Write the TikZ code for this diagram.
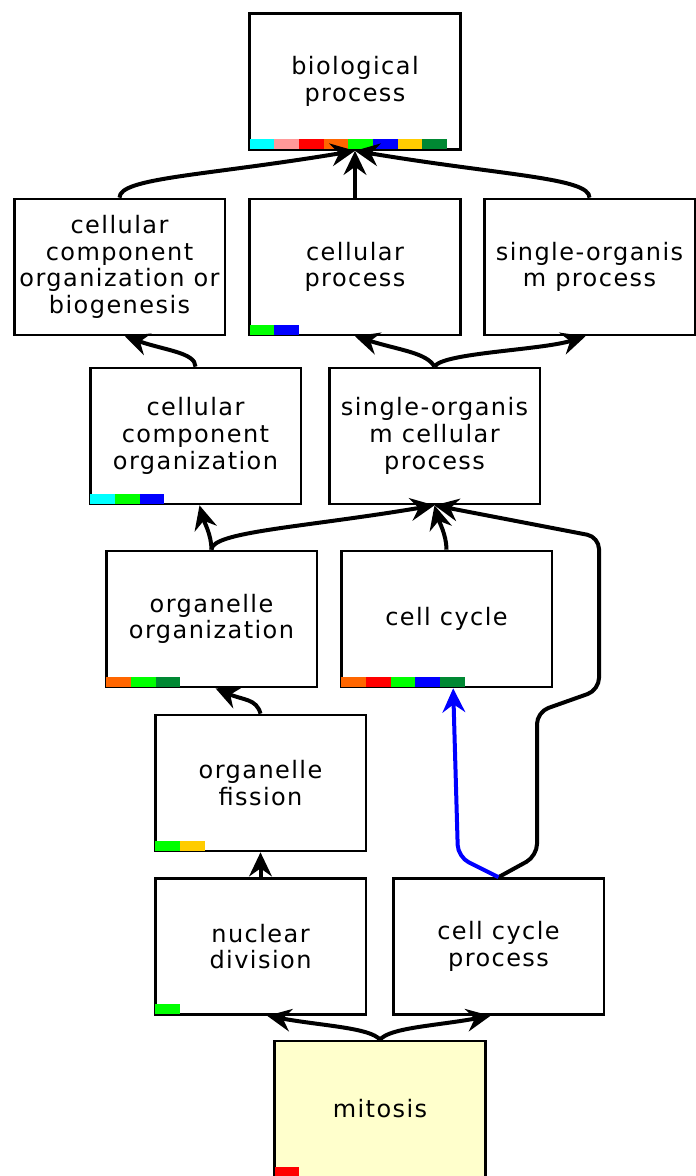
\documentclass[tikz,border=0pt]{standalone}
\usepackage{fontspec}
\usepackage{tikz}
\usetikzlibrary{positioning,%
  arrows.meta,%
  calc
}
\newfontfamily\gofont{DejaVu Sans}[LetterSpace=6]

\definecolor{gocyan}{RGB}{0,255,255}
\definecolor{gopink}{RGB}{255,153,153}
\definecolor{gored}{RGB}{255,0,0}
\definecolor{goorange}{RGB}{255,102,0}
\definecolor{gogreen}{RGB}{0,255,0}
\definecolor{goblue}{RGB}{0,0,255}
\definecolor{gogold}{RGB}{255,204,0}
\definecolor{godkgreen}{RGB}{0,136,51}
\definecolor{goquery}{RGB}{255,255,204}

% little colour strip in the lower left corner of a term box
\newcommand{\gobar}[2]{%
  \foreach \col [count=\i from 0] in {#2}
    \fill[\col] ([xshift={1pt+\i*18.5pt},yshift=1pt]#1.south west) rectangle ++(18.5pt,7.5pt);%
}

\tikzset{
  term/.style={draw, line width=2pt, fill=white, minimum width=158pt,
    minimum height=102pt, align=center, inner sep=2pt,
    font=\gofont\fontsize{18}{20}\selectfont},
  isa/.style={line width=3pt, -{Stealth[length=18pt,width=17pt,inset=6pt]}},
  partof/.style={isa, draw=goblue}
}

\begin{document}
\begin{tikzpicture}[x=0.75pt,y=0.75pt]
  \useasboundingbox (0,0) rectangle (695,1176);

  % terms
  \node[term] (bp)   at (355,1094.5) {biological\\process};
  \node[term] (ccob) at (119.5,909)  {cellular\\component\\organization or\\biogenesis};
  \node[term] (cp)   at (355,909)    {cellular\\process};
  \node[term] (sop)  at (589.5,909)  {single-organis\\m process};
  \node[term] (cco)  at (195.5,740)  {cellular\\component\\organization};
  \node[term] (socp) at (434.5,740)  {single-organis\\m cellular\\process};
  \node[term] (oo)   at (211.5,557)  {organelle\\organization};
  \node[term] (cc)   at (446.5,557)  {cell cycle};
  \node[term] (of)   at (260.5,393)  {organelle\\fission};
  \node[term] (nd)   at (260.5,229.5) {nuclear\\division};
  \node[term] (ccp)  at (498.5,229.5) {cell cycle\\process};
  \node[term, fill=goquery] (mit) at (380,67) {mitosis};

  \gobar{bp}{gocyan,gopink,gored,goorange,gogreen,goblue,gogold,godkgreen}
  \gobar{cp}{gogreen,goblue}
  \gobar{cco}{gocyan,gogreen,goblue}
  \gobar{oo}{goorange,gogreen,godkgreen}
  \gobar{cc}{goorange,gored,gogreen,goblue,godkgreen}
  \gobar{of}{gogreen,gogold}
  \gobar{nd}{gogreen}
  \gobar{mit}{gored}

  % is_a links
  \draw[isa] (ccob.north) .. controls +(0,20) and +(-150,-25) .. (bp.south);
  \draw[isa] (cp.north) -- (bp.south);
  \draw[isa] (sop.north) .. controls +(0,20) and +(150,-25) .. (bp.south);
  \draw[isa] (cco.north) .. controls +(0,14) and +(40,-14) .. ([xshift=4pt]ccob.south);
  \draw[isa] (socp.north) .. controls +(-8,14) and +(45,-14) .. (cp.south);
  \draw[isa] (socp.north) .. controls +(8,14) and +(-45,-14) .. ([xshift=-3pt]sop.south);
  \draw[isa] (oo.north) .. controls +(0,15) and +(4,-15) .. ([xshift=3pt]cco.south);
  \draw[isa] (oo.north) .. controls +(0,18) and +(-130,-22) .. (socp.south);
  \draw[isa] (cc.north) .. controls +(0,15) and +(4,-15) .. (socp.south);
  \draw[isa, rounded corners=9pt] (ccp.north) -- (537,320) -- (537,464)
    -- (599,486) -- (599,639) -- (socp.south);
  \draw[partof, rounded corners=9pt] (ccp.north) -- (458,319) -- ([xshift=5pt]cc.south);
  \draw[isa] (of.north) .. controls +(-4,15) and +(28,-12) .. ([xshift=3pt]oo.south);
  \draw[isa] (nd.north) -- (of.south);
  \draw[isa] (mit.north) .. controls +(-10,12) and +(55,-10) .. ([xshift=5pt]nd.south);
  \draw[isa] (mit.north) .. controls +(10,12) and +(-55,-10) .. ([xshift=-6pt]ccp.south);
\end{tikzpicture}
\end{document}
